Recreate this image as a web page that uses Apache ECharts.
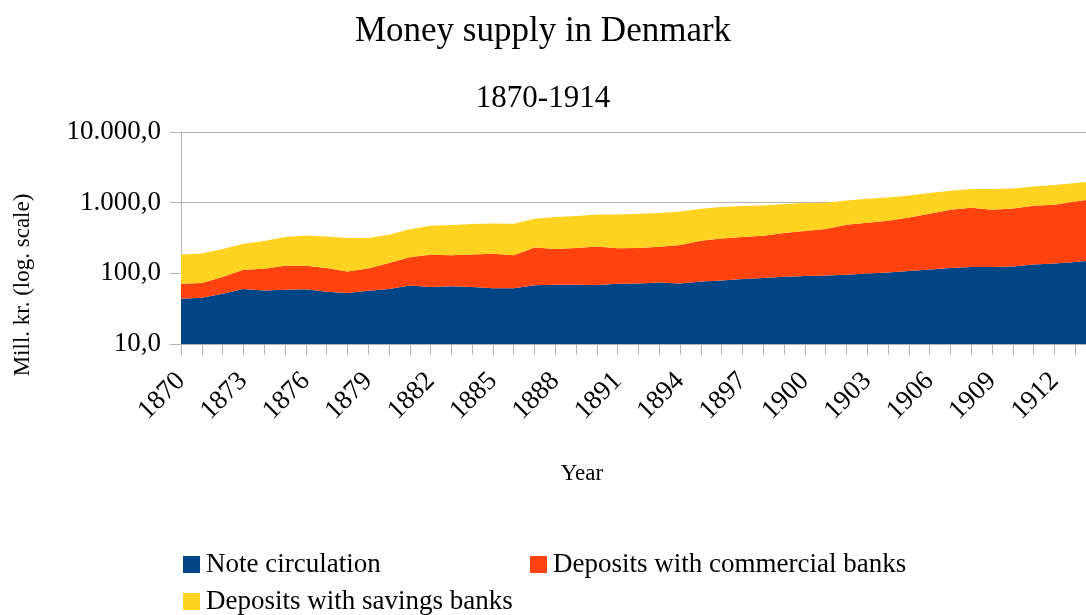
<!DOCTYPE html>
<html>
<head>
<meta charset="utf-8">
<script src="https://cdn.jsdelivr.net/npm/echarts@6/dist/echarts.min.js"></script>
<style>
html,body{margin:0;padding:0;overflow:hidden;background:#fff;}
#chart{width:1086px;height:615px;}
</style>
</head>
<body>
<div id="chart"></div>
<script>
const years = [];
for (let y = 1870; y <= 1914; y++) years.push(String(y));

const noteCirculation = [
  43.8, 45.2, 51.5, 60.0, 57.3, 58.7, 59.3, 55.0, 52.7, 56.8,
  60.0, 67.5, 64.1, 65.8, 64.1, 61.6, 61.6, 67.9, 69.0, 69.0,
  68.6, 71.3, 72.0, 74.4, 72.0, 76.9, 79.4, 83.2, 85.9, 89.6,
  91.7, 93.5, 95.7, 99.8, 103.1, 107.9, 113.7, 118.9, 122.9, 122.9,
  125.3, 133.7, 138.2, 144.6, 153.4
];
const commercialBanks = [
  27.5, 27.7, 37.2, 52.5, 59.0, 69.5, 68.9, 63.9, 53.8, 60.6,
  80.0, 101.7, 119.4, 114.7, 120.5, 128.0, 118.9, 164.9, 151.8, 160.0,
  171.9, 155.5, 156.2, 163.9, 179.8, 212.6, 232.6, 243.5, 254.7, 282.4,
  305.3, 330.1, 392.0, 420.6, 452.4, 510.6, 584.0, 675.9, 725.5, 671.9,
  703.9, 772.0, 797.2, 897.4, 984.6
];
const savingsBanks = [
  114.0, 118.5, 132.1, 150.0, 170.3, 198.5, 216.0, 214.3, 209.7, 198.8,
  212.1, 251.5, 288.3, 302.0, 314.4, 319.4, 323.5, 360.2, 406.2, 421.0,
  441.5, 455.2, 469.8, 475.7, 500.2, 532.5, 557.0, 571.3, 574.4, 586.0,
  592.0, 575.4, 589.3, 617.6, 631.5, 648.5, 672.3, 682.2, 712.6, 766.2,
  762.8, 793.3, 842.6, 856.0, 875.0
];
const seriesNames = ['Note circulation', 'Deposits with commercial banks', 'Deposits with savings banks'];
const colors = ['#004586', '#ff420e', '#ffd320'];

const FONT = 'Liberation Serif';
const GRID = '#b3b3b3';

function fmtDa(v) {
  const n = Math.round(v);
  const s = String(n).replace(/\B(?=(\d{3})+(?!\d))/g, '.');
  return s + ',0';
}

const chart = echarts.init(document.getElementById('chart'), null, {renderer: 'canvas'});
const data = [noteCirculation, commercialBanks, savingsBanks];

const option = {
  backgroundColor: '#ffffff',
  animation: false,
  title: [
    {text: 'Money supply in Denmark', left: 'center', top: 9,
     textStyle: {fontFamily: FONT, fontSize: 35, fontWeight: 'normal', color: '#000'}},
    {text: '1870-1914', left: 'center', top: 78,
     textStyle: {fontFamily: FONT, fontSize: 31, fontWeight: 'normal', color: '#000'}}
  ],
  legend: [
    {data: [seriesNames[0]], left: 183, top: 551},
    {data: [seriesNames[1]], left: 530, top: 551},
    {data: [seriesNames[2]], left: 183, top: 588}
  ].map(l => Object.assign(l, {
    orient: 'horizontal', icon: 'rect', itemWidth: 17, itemHeight: 17, padding: 0,
    textStyle: {fontFamily: FONT, fontSize: 27, color: '#000', padding: [0, 0, 0, 1]}
  })),
  grid: {left: 181, top: 132, right: -10, bottom: 271, containLabel: false, outerBoundsMode: 'none'},
  xAxis: {
    type: 'category', data: years, boundaryGap: false,
    axisLine: {show: true, lineStyle: {color: GRID, width: 1}},
    axisTick: {show: true, interval: 0, length: 11, lineStyle: {color: GRID}},
    axisLabel: {interval: 2, rotate: 45, margin: 33, fontFamily: FONT, fontSize: 27, color: '#000'},
    splitLine: {show: false}
  },
  yAxis: {
    type: 'log', logBase: 10, min: 10, max: 10000,
    axisLine: {show: true, lineStyle: {color: GRID, width: 1}},
    axisTick: {show: true, length: 11, lineStyle: {color: GRID}},
    axisLabel: {margin: 20, fontFamily: FONT, fontSize: 27, color: '#000', formatter: fmtDa},
    splitLine: {show: true, lineStyle: {color: GRID, width: 1}},
    minorTick: {show: false}
  },
  graphic: [
    {type: 'text', x: 582, y: 474,
     style: {text: 'Year', font: '23px "Liberation Serif"', fill: '#000', align: 'center', verticalAlign: 'middle'}},
    {type: 'text', x: 23, y: 285, rotation: Math.PI / 2,
     style: {text: 'Mill. kr. (log. scale)', font: '23px "Liberation Serif"', fill: '#000', align: 'center', verticalAlign: 'middle'}}
  ],
  series: seriesNames.map((name, i) => ({
    name: name, type: 'line', stack: 'total', data: data[i],
    showSymbol: false, symbol: 'none', smooth: false,
    lineStyle: {width: 0, color: colors[i]},
    itemStyle: {color: colors[i]},
    areaStyle: {color: colors[i], opacity: 1},
    z: 2
  }))
};
chart.setOption(option);
</script>
</body>
</html>
